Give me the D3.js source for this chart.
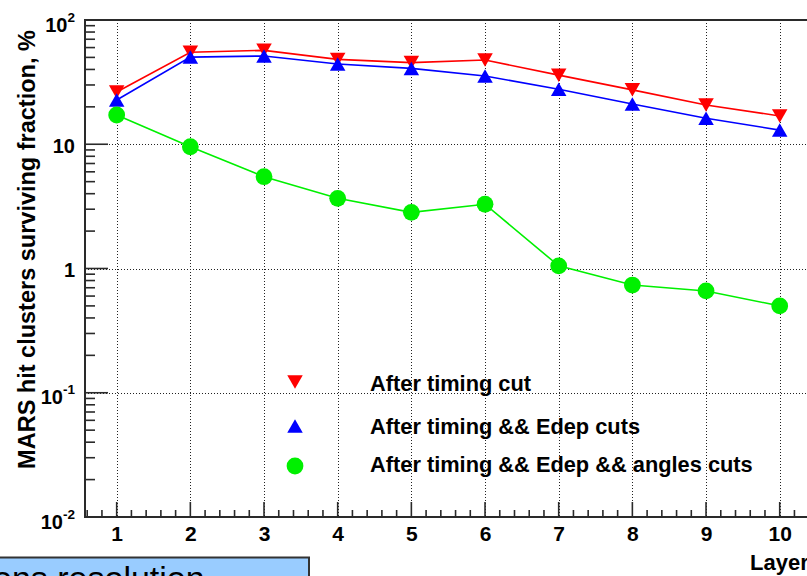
<!DOCTYPE html>
<html>
<head>
<meta charset="utf-8">
<script src="https://cdn.jsdelivr.net/npm/d3@7"></script>
<style>
  body { margin: 0; background: #fff; }
  svg { display: block; font-family: "Liberation Sans", Arial, Helvetica, sans-serif; }
</style>
</head>
<body>
<svg id="chart" width="807" height="576"></svg>
<script>
// Surviving fraction (%) of MARS hit clusters per layer after each set of cuts
const layers = [1, 2, 3, 4, 5, 6, 7, 8, 9, 10];
const afterTiming = [26.3, 55.0, 57.0, 48.2, 45.4, 47.6, 36.0, 27.4, 20.7, 16.9];
const afterTimingEdep = [22.7, 50.3, 51.3, 44.3, 40.8, 35.4, 27.7, 21.1, 16.2, 13.0];
const afterTimingEdepAngles = [17.2, 9.55, 5.48, 3.67, 2.83, 3.29, 1.05, 0.736, 0.66, 0.50];

const seriesNames = [
  "After timing cut",
  "After timing && Edep cuts",
  "After timing && Edep && angles cuts"
];
const seriesColors = ["#ff0000", "#0000ff", "#00f000"];
const seriesMarkers = ["down", "up", "circle"];

const yDecades = [0.01, 0.1, 1, 10, 100];
const yTickBase = ["10", "10", "1", "10", "10"];
const yTickExp = ["-2", "-1", "", "", "2"];
const xTickLabels = ["1", "2", "3", "4", "5", "6", "7", "8", "9", "10"];
const xTitle = "Layer";
const yTitle = "MARS hit clusters surviving fraction, %";

(function draw() {
  const svg = d3.select("#chart");

  // Frame geometry
  const plotLeft = 85, plotTop = 20, plotBottom = 517;
  const x = d3.scaleLinear().domain([0.57, 10.5]).range([plotLeft, plotLeft + 9.93 * 73.67]);
  const plotRight = x.range()[1];
  const y = d3.scaleLog().domain([0.01, 100]).range([plotBottom, plotTop]);

  const frameColor = "#2a2a2a";

  // Dotted grid
  const grid = svg.append("g").attr("stroke", "#222").attr("stroke-width", 1)
    .attr("stroke-dasharray", "1,2");
  grid.selectAll("line.gx").data(layers).join("line")
    .attr("x1", d => Math.round(x(d)) + 0.5).attr("x2", d => Math.round(x(d)) + 0.5)
    .attr("y1", plotTop).attr("y2", plotBottom);
  grid.selectAll("line.gy").data([0.1, 1, 10]).join("line")
    .attr("y1", d => Math.round(y(d)) + 0.5).attr("y2", d => Math.round(y(d)) + 0.5)
    .attr("x1", plotLeft).attr("x2", plotRight);

  // X axis ticks (major every layer, minor every 0.2)
  const xMinor = d3.range(6, 106, 2).map(v => v / 10).filter(v => Math.abs(v - Math.round(v)) > 1e-6);
  const xAxis = svg.append("g").attr("transform", `translate(0,${plotBottom})`)
    .call(d3.axisBottom(x).tickValues(layers).tickSize(0).tickFormat((d, i) => xTickLabels[i]));
  xAxis.select(".domain").remove();
  xAxis.selectAll("text")
    .attr("y", 24).attr("dy", 0)
    .attr("font-size", 21).attr("font-weight", "bold").attr("fill", "#000")
    .attr("font-family", "Liberation Sans, Arial, sans-serif");
  const xt = svg.append("g").attr("stroke", frameColor).attr("stroke-width", 1.6);
  xt.selectAll("line.maj").data(layers).join("line")
    .attr("x1", d => x(d)).attr("x2", d => x(d)).attr("y1", plotBottom).attr("y2", plotBottom - 15);
  xt.selectAll("line.min").data(xMinor).join("line")
    .attr("x1", d => x(d)).attr("x2", d => x(d)).attr("y1", plotBottom).attr("y2", plotBottom - 7);

  // Y axis ticks (log: decades plus 2..9 in each)
  const yMinor = [];
  yDecades.slice(0, -1).forEach(dv => { for (let k = 2; k <= 9; k++) yMinor.push(dv * k); });
  const yt = svg.append("g").attr("stroke", frameColor).attr("stroke-width", 1.6);
  yt.selectAll("line.maj").data(yDecades.slice(0, -1)).join("line")
    .attr("x1", plotLeft).attr("x2", plotLeft + 23).attr("y1", d => y(d)).attr("y2", d => y(d));
  yt.selectAll("line.min").data(yMinor).join("line")
    .attr("x1", plotLeft).attr("x2", plotLeft + 10).attr("y1", d => y(d)).attr("y2", d => y(d));

  // Y tick labels with exponent superscripts
  const yl = svg.append("g").attr("font-size", 20).attr("font-weight", "bold").attr("fill", "#000");
  yDecades.forEach((dv, i) => {
    const hasExp = yTickExp[i] !== "";
    const t = yl.append("text").attr("text-anchor", "end").attr("x", 75)
      .attr("y", y(dv) + (hasExp ? 11.5 : 8.5));
    t.append("tspan").text(yTickBase[i]);
    if (hasExp) {
      t.append("tspan").attr("font-size", 13.5).attr("dy", -10).text(yTickExp[i]);
    }
  });

  // Frame
  svg.append("path")
    .attr("d", `M${plotRight},${plotBottom}H${plotLeft}V${plotTop}H${plotRight}`)
    .attr("fill", "none").attr("stroke", frameColor).attr("stroke-width", 2);

  // Axis titles
  svg.append("text").attr("x", 750).attr("y", 570)
    .attr("font-size", 22).attr("font-weight", "bold").attr("fill", "#000").text(xTitle);
  svg.append("text")
    .attr("transform", `translate(35,249.5) rotate(-90)`)
    .attr("text-anchor", "middle")
    .attr("font-size", 23.5).attr("font-weight", "bold").attr("fill", "#000").text(yTitle);

  // Marker shapes
  function markerPath(kind) {
    const w = 15.5, h = 13.5;
    if (kind === "up") return `M0,${-h / 2}L${w / 2},${h / 2}L${-w / 2},${h / 2}Z`;
    if (kind === "down") return `M0,${h / 2}L${w / 2},${-h / 2}L${-w / 2},${-h / 2}Z`;
    return d3.symbol(d3.symbolCircle, Math.PI * 8.4 * 8.4)();
  }

  // Series: line then markers, drawn in order red, blue, green
  const allSeries = [afterTiming, afterTimingEdep, afterTimingEdepAngles];
  const line = d3.line().x(d => x(d[0])).y(d => y(d[1]));
  allSeries.forEach((vals, i) => {
    const pts = layers.map((l, j) => [l, vals[j]]);
    const g = svg.append("g");
    g.append("path").datum(pts).attr("d", line)
      .attr("fill", "none").attr("stroke", seriesColors[i]).attr("stroke-width", 1.6);
    g.selectAll("path.m").data(pts).join("path")
      .attr("transform", d => `translate(${x(d[0])},${y(d[1])})`)
      .attr("d", markerPath(seriesMarkers[i]))
      .attr("fill", seriesColors[i]);
  });

  // Legend
  const legendY = [382, 426, 466];
  const legendBase = [390.5, 434, 471.5];
  const lg = svg.append("g");
  seriesNames.forEach((name, i) => {
    lg.append("path").attr("transform", `translate(295,${legendY[i]})`)
      .attr("d", markerPath(seriesMarkers[i])).attr("fill", seriesColors[i]);
    lg.append("text").attr("x", 370).attr("y", legendBase[i])
      .attr("font-size", 21.8).attr("font-weight", "bold").attr("fill", "#000").text(name);
  });

  // Caption box at the lower left edge
  const cap = svg.append("g");
  cap.append("rect").attr("x", -5).attr("y", 557.5).attr("width", 314).attr("height", 40)
    .attr("fill", "#99ccff").attr("stroke", "#333").attr("stroke-width", 2);
  cap.append("text").attr("x", -7).attr("y", 590).attr("font-size", 34).attr("fill", "#000")
    .text("ons resolution");
})();
</script>
</body>
</html>
